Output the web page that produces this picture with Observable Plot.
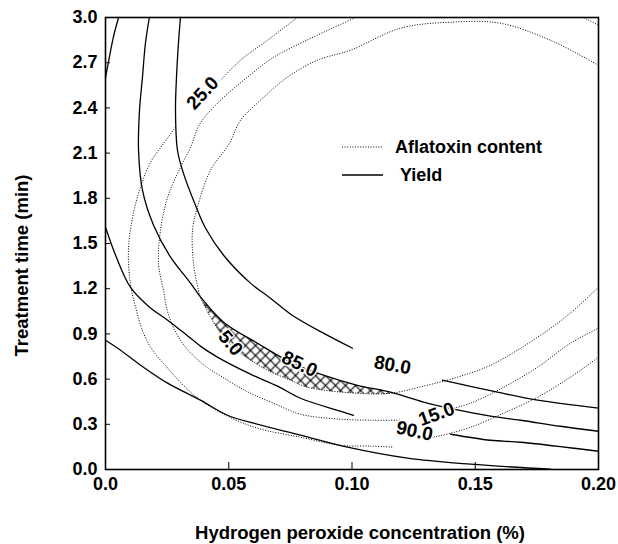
<!DOCTYPE html>
<html>
<head>
<meta charset="utf-8">
<script src="https://cdn.jsdelivr.net/npm/d3@7"></script>
<script src="https://cdn.jsdelivr.net/npm/@observablehq/plot@0.6"></script>
<style>
  html, body { margin: 0; padding: 0; background: #fff; }
  #wrap { position: relative; width: 618px; height: 544px; font-family: "Liberation Sans", Arial, Helvetica, sans-serif; }
  #legend { position: absolute; left: 340px; top: 133px; font-size: 18px; font-weight: bold; color: #000; }
  #legend .row { display: flex; align-items: center; height: 28px; }
  #legend svg { flex: none; }
  #legend span { white-space: nowrap; }
</style>
</head>
<body>
<div id="wrap"><div id="chart"></div><div id="legend"></div></div>
<script>
// ---- axes ----
const xTickValues = [0, 0.05, 0.10, 0.15, 0.20];
const xTickLabels = ["0.0", "0.05", "0.10", "0.15", "0.20"];
const yTickValues = [0, 0.3, 0.6, 0.9, 1.2, 1.5, 1.8, 2.1, 2.4, 2.7, 3.0];
const yTickLabels = ["0.0", "0.3", "0.6", "0.9", "1.2", "1.5", "1.8", "2.1", "2.4", "2.7", "3.0"];
const xTitle = "Hydrogen peroxide concentration (%)";
const yTitle = "Treatment time (min)";
const legendLabels = ["Aflatoxin content", "Yield"];

// ---- yield contours (solid): [H2O2 %, time min] ----
const yieldTopLeft = [[0.0053,3.0],[0.0032,2.87],[0.0008,2.67],[0,2.60]];
const yield85 = [[0.0178,3.0],[0.0162,2.829],[0.0150,2.604],[0.0138,2.385],[0.0134,2.119],[0.0150,1.854],[0.0195,1.621],[0.0264,1.409],[0.0345,1.237],[0.0385,1.146],[0.0479,0.978],[0.0617,0.838],[0.0751,0.712],[0.0884,0.626],[0.1022,0.559],[0.1156,0.513],[0.1290,0.447],[0.1412,0.400],[0.1562,0.354],[0.1684,0.327],[0.1846,0.287],[0.2,0.254]];
const yield80a = [[0.0304,3.0],[0.0296,2.829],[0.0288,2.604],[0.0284,2.385],[0.0292,2.119],[0.0316,1.967],[0.0365,1.754],[0.0406,1.601],[0.0479,1.422],[0.0588,1.237],[0.0669,1.137],[0.0751,1.031],[0.0884,0.905],[0.1002,0.805]];
const yield80b = [[0.1367,0.593],[0.1590,0.513],[0.1753,0.460],[0.2,0.407]];
const yield90a = [[0,1.608],[0.0041,1.422],[0.0101,1.210],[0.0174,1.084],[0.0252,0.991],[0.0325,0.898],[0.0385,0.819],[0.0454,0.746],[0.0588,0.633],[0.0698,0.553],[0.0791,0.473],[0.0953,0.387],[0.1006,0.360]];
const yield90b = [[0.1400,0.234],[0.1562,0.194],[0.1684,0.181],[0.2,0.121]];
const yieldLow = [[0,0.858],[0.0061,0.792],[0.0154,0.679],[0.0252,0.573],[0.0385,0.460],[0.0495,0.360],[0.0600,0.307],[0.0791,0.228],[0.0982,0.148],[0.1225,0.075],[0.1481,0.035],[0.1805,0.002]];

// ---- aflatoxin contours (dotted) ----
const afla25a = [[0.0779,3.0],[0.0657,2.849],[0.0548,2.717],[0.0467,2.584]];
const afla25b = [[0.0284,2.272],[0.0231,2.153],[0.0183,2.040],[0.0142,1.874],[0.0110,1.675],[0.0093,1.455],[0.0101,1.237],[0.0122,1.078],[0.0154,0.905],[0.0191,0.792],[0.0252,0.673],[0.0316,0.559],[0.0385,0.460],[0.0495,0.354],[0.0617,0.274],[0.0791,0.214],[0.0953,0.161],[0.1087,0.155],[0.1168,0.148]];
const afla25c = [[0.1331,0.214],[0.1400,0.241],[0.1481,0.280],[0.1615,0.374],[0.1753,0.480],[0.1886,0.613],[0.2,0.745]];
const afla15a = [[0.1939,3.0],[0.2,2.949]];
const afla15b = [[0.1014,3.0],[0.0860,2.883],[0.0791,2.829],[0.0682,2.736],[0.0576,2.604],[0.0467,2.451],[0.0385,2.299],[0.0345,2.139],[0.0304,2.006],[0.0252,1.807],[0.0223,1.588],[0.0215,1.369],[0.0235,1.190],[0.0256,1.025],[0.0304,0.858],[0.0385,0.712],[0.0495,0.593],[0.0588,0.506],[0.0682,0.440],[0.0791,0.367],[0.0953,0.334],[0.1087,0.327],[0.1197,0.327]];
const afla15c = [[0.1412,0.407],[0.1481,0.440],[0.1615,0.546],[0.1753,0.679],[0.1886,0.838],[0.2,0.938]];
const afla5 = [[0.2,2.683],[0.1805,2.849],[0.1602,2.962],[0.1400,2.969],[0.1197,2.929],[0.0994,2.783],[0.0860,2.717],[0.0738,2.604],[0.0629,2.451],[0.0548,2.319],[0.0503,2.166],[0.0426,1.986],[0.0373,1.741],[0.0353,1.588],[0.0357,1.369],[0.0377,1.190],[0.0385,1.144],[0.0426,1.012],[0.0479,0.878],[0.0548,0.772],[0.0657,0.659],[0.0751,0.593],[0.0819,0.546],[0.1022,0.506],[0.1156,0.506],[0.1290,0.553],[0.1428,0.613],[0.1562,0.692],[0.1753,0.878],[0.1886,1.038],[0.2,1.210]];

// ---- contour labels ----
const contourLabelText = ["25.0", "80.0", "85.0", "5.0", "15.0", "90.0"];
const contourLabelX = [0.0394, 0.1164, 0.0787, 0.0507, 0.1343, 0.1254];
const contourLabelY = [2.498, 0.693, 0.700, 0.839, 0.367, 0.254];

// ---- build ----
const labelAngles = [-47, 10, 25, 50, -20, 12];
const labels = contourLabelText.map((t, i) => ({text: t, x: contourLabelX[i], y: contourLabelY[i], angle: labelAngles[i]}));

// hatched optimum region: between yield 85 contour (upper) and aflatoxin 5 contour (lower)
const hatchRegion = yield85.filter(p => p[0] >= 0.0385 && p[0] <= 0.116)
  .concat(afla5.filter(p => p[1] < 1.15 && p[0] >= 0.0385 && p[0] <= 0.116).reverse());

const solidCurves = [yieldTopLeft, yield85, yield80a, yield80b, yield90a, yield90b, yieldLow];
const dottedCurves = [afla25a, afla25b, afla25c, afla15a, afla15b, afla15c, afla5];

const solidStyle = {x: d => d[0], y: d => d[1], stroke: "#000", strokeWidth: 1.3, curve: "catmull-rom"};
const dotStyle = {x: d => d[0], y: d => d[1], stroke: "#000", strokeWidth: 1, strokeDasharray: "1,1.6", strokeLinecap: "butt", curve: "catmull-rom"};

const font = "Liberation Sans, Arial, Helvetica, sans-serif";

const chart = Plot.plot({
  width: 618,
  height: 544,
  marginLeft: 105,
  marginRight: 20,
  marginTop: 17,
  marginBottom: 75,
  style: {fontFamily: font, fontSize: "18px", fontWeight: "bold", color: "#000", background: "#fff", overflow: "visible"},
  x: {domain: [0, 0.2]},
  y: {domain: [0, 3]},
  marks: [
    Plot.line(hatchRegion, {x: d => d[0], y: d => d[1], fill: "url(#xhatch)", stroke: "none", curve: "catmull-rom"}),
    ...dottedCurves.map(c => Plot.line(c, dotStyle)),
    ...solidCurves.map(c => Plot.line(c, solidStyle)),
    Plot.text(labels, {x: "x", y: "y", text: "text", rotate: "angle", fontSize: 19, fontWeight: "bold",
      fill: "#000", stroke: "#fff", strokeWidth: 3, paintOrder: "stroke"}),
    Plot.frame({stroke: "#000", strokeWidth: 1.6}),
    Plot.axisX({ticks: xTickValues, tickFormat: d => xTickLabels[xTickValues.indexOf(d)], tickSize: -7, tickPadding: 15, label: null, fontSize: 18}),
    Plot.axisY({ticks: yTickValues, tickFormat: d => yTickLabels[yTickValues.indexOf(d)], tickSize: -5, tickPadding: 13, label: null, fontSize: 18}),
    Plot.text([xTitle], {frameAnchor: "bottom", textAnchor: "middle", lineAnchor: "bottom", dx: 8, dy: 69, fontSize: 18.5, fontWeight: "bold"}),
    Plot.text([yTitle], {frameAnchor: "left", textAnchor: "middle", lineAnchor: "middle", rotate: -90, dx: -83, dy: 22, fontSize: 18.5, fontWeight: "bold"})
  ]
});

const svgEl = chart.tagName.toLowerCase() === "svg" ? chart : chart.querySelector("svg");
d3.select(svgEl).insert("defs", ":first-child").html(
  '<pattern id="xhatch" patternUnits="userSpaceOnUse" width="10" height="10">' +
  '<path d="M-1,-1L11,11M11,-1L-1,11" stroke="#000" stroke-width="1.2" fill="none"/></pattern>');
document.getElementById("chart").appendChild(chart);

// legend
const legend = d3.select("#legend");
const styles = [{dash: "1,1.6", stroke: "#000", w: 1}, {dash: null, stroke: "#000", w: 1.3}];
legendLabels.forEach((lab, i) => {
  const row = legend.append("div").attr("class", "row");
  const s = row.append("svg").attr("width", 45).attr("height", 10);
  s.append("line").attr("x1", 2).attr("x2", 43).attr("y1", 5).attr("y2", 5)
    .attr("stroke", styles[i].stroke).attr("stroke-width", styles[i].w)
    .attr("stroke-dasharray", styles[i].dash);
  row.append("span").style("margin-left", i === 0 ? "10px" : "15px").text(lab);
});
</script>
</body>
</html>
